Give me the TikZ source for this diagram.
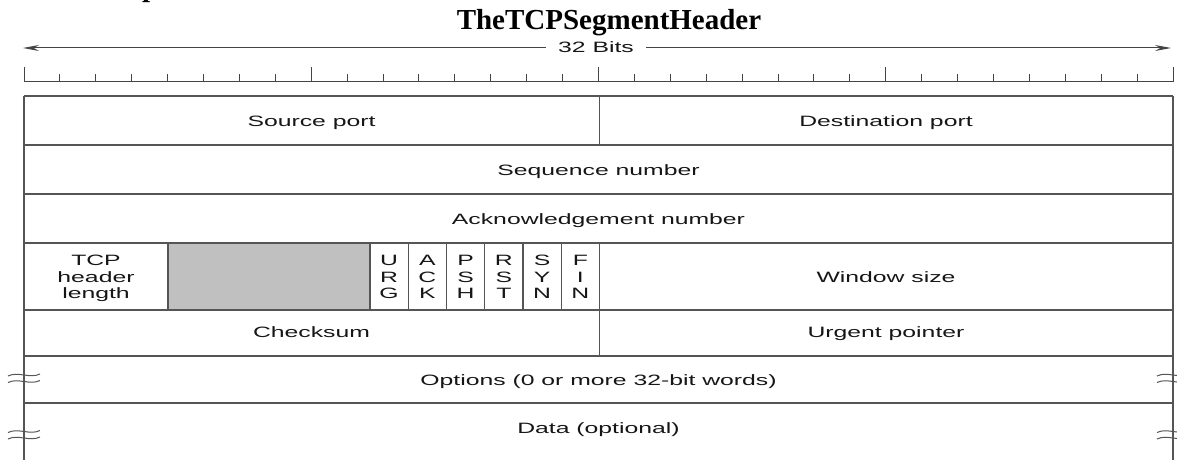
\documentclass[tikz,border=0pt]{standalone}
\usepackage{fontspec}
\usepackage{graphicx}
\setmainfont{Liberation Serif}
\setsansfont{Liberation Sans}
\usetikzlibrary{arrows.meta}
\newcommand{\hs}[1]{\scalebox{1.65}[1]{#1}}
\definecolor{ln}{HTML}{555555}
\definecolor{txt}{HTML}{161616}
\definecolor{resv}{HTML}{C0C0C0}
\begin{document}
\begin{tikzpicture}[x=1pt,y=-1pt,
  cell/.style={font=\sffamily\fontsize{15}{16.5}\selectfont, text=txt, inner sep=0pt},
  stack/.style={cell, align=center},
  tl/.style={draw=ln, line width=1.2pt},
  ol/.style={draw=ln, line width=1.6pt},
  rul/.style={draw=ln!80!black, line width=1pt},
  brk/.style={draw=ln, line width=1pt},
  tip/.style={-{Stealth[length=16pt,width=6pt]}},
  ttl/.style={font=\bfseries\fontsize{29}{34}\selectfont, text=black, inner sep=0pt}
  ]
\useasboundingbox (0,0) rectangle (1177,465);

% title and cut-off fragment
\node[ttl, anchor=base west] (frag) at (142,-3) {p};
\node[ttl, anchor=base] (title) at (609,30) {TheTCPSegmentHeader};

% 32 bits arrow
\coordinate (al) at (23,48);
\coordinate (ar) at (1171,48);
\node[cell, anchor=base, inner xsep=12pt] (bits) at (596,53) {\hs{32 Bits}};
\draw[rul, tip] (bits.west |- al) -- (al);
\draw[rul, tip] (bits.east |- ar) -- (ar);

% ruler
\draw[rul] (24,66.7) -- (24,81.5) -- (1173,81.5) -- (1173,66.7);
\foreach \i in {1,...,31}{
  \pgfmathsetmacro{\tp}{mod(\i,8)==0 ? 66.7 : 74}
  \draw[rul] ({24+\i*35.906},81.5) -- ({24+\i*35.906},\tp);
}

% reserved field
\fill[resv] (168,243) rectangle (370,310);

% horizontal lines
\foreach \yy in {96,145,194,243,310,356,403}{
  \draw[tl] (24,\yy) -- (1173,\yy);
}
% inner verticals
\draw[tl] (599.5,96) -- (599.5,145);
\draw[tl] (599.5,310) -- (599.5,356);
\foreach \xx in {168,370,408.25,446.5,484.75,523,561.25,599.5}{
  \draw[tl] (\xx,243) -- (\xx,310);
}
% outer verticals
\draw[ol] (24,96) -- (24,460);
\draw[ol] (1173,96) -- (1173,460);

% break marks
\foreach \xc in {24,1173}{
  \foreach \yy in {375,431.5}{
    \draw[brk] (\xc-16,\yy+1) .. controls (\xc-6,\yy-4) and (\xc+6,\yy+4) .. (\xc+16,\yy-1);
    \draw[brk] (\xc-16,\yy+7.5) .. controls (\xc-6,\yy+2.5) and (\xc+6,\yy+10.5) .. (\xc+16,\yy+5.5);
  }
}

% field labels
\node[cell, anchor=base] (src) at (311.5,127) {\hs{Source port}};
\node[cell, anchor=base] (dst) at (886,127) {\hs{Destination port}};
\node[cell, anchor=base] (seq) at (598.5,176) {\hs{Sequence number}};
\node[cell, anchor=base] (ack) at (598.5,224) {\hs{Acknowledgement number}};
\node[stack] (hlen) at (96,279) {\hs{\begin{tabular}{@{}c@{}}TCP\\header\\length\end{tabular}}};
\node[stack] (urg) at (389.1,279) {\hs{\begin{tabular}{@{}c@{}}U\\R\\G\end{tabular}}};
\node[stack] (ackf) at (427.4,279) {\hs{\begin{tabular}{@{}c@{}}A\\C\\K\end{tabular}}};
\node[stack] (psh) at (465.6,279) {\hs{\begin{tabular}{@{}c@{}}P\\S\\H\end{tabular}}};
\node[stack] (rst) at (503.9,279) {\hs{\begin{tabular}{@{}c@{}}R\\S\\T\end{tabular}}};
\node[stack] (syn) at (542.1,279) {\hs{\begin{tabular}{@{}c@{}}S\\Y\\N\end{tabular}}};
\node[stack] (fin) at (580.4,279) {\hs{\begin{tabular}{@{}c@{}}F\\I\\N\end{tabular}}};
\node[cell, anchor=base] (win) at (886,282) {\hs{Window size}};
\node[cell, anchor=base] (chk) at (311.5,337) {\hs{Checksum}};
\node[cell, anchor=base] (urgp) at (886,337) {\hs{Urgent pointer}};
\node[cell, anchor=base] (opt) at (598.5,385) {\hs{Options (0 or more 32-bit words)}};
\node[cell, anchor=base] (data) at (598.5,433) {\hs{Data (optional)}};
\end{tikzpicture}
\end{document}
